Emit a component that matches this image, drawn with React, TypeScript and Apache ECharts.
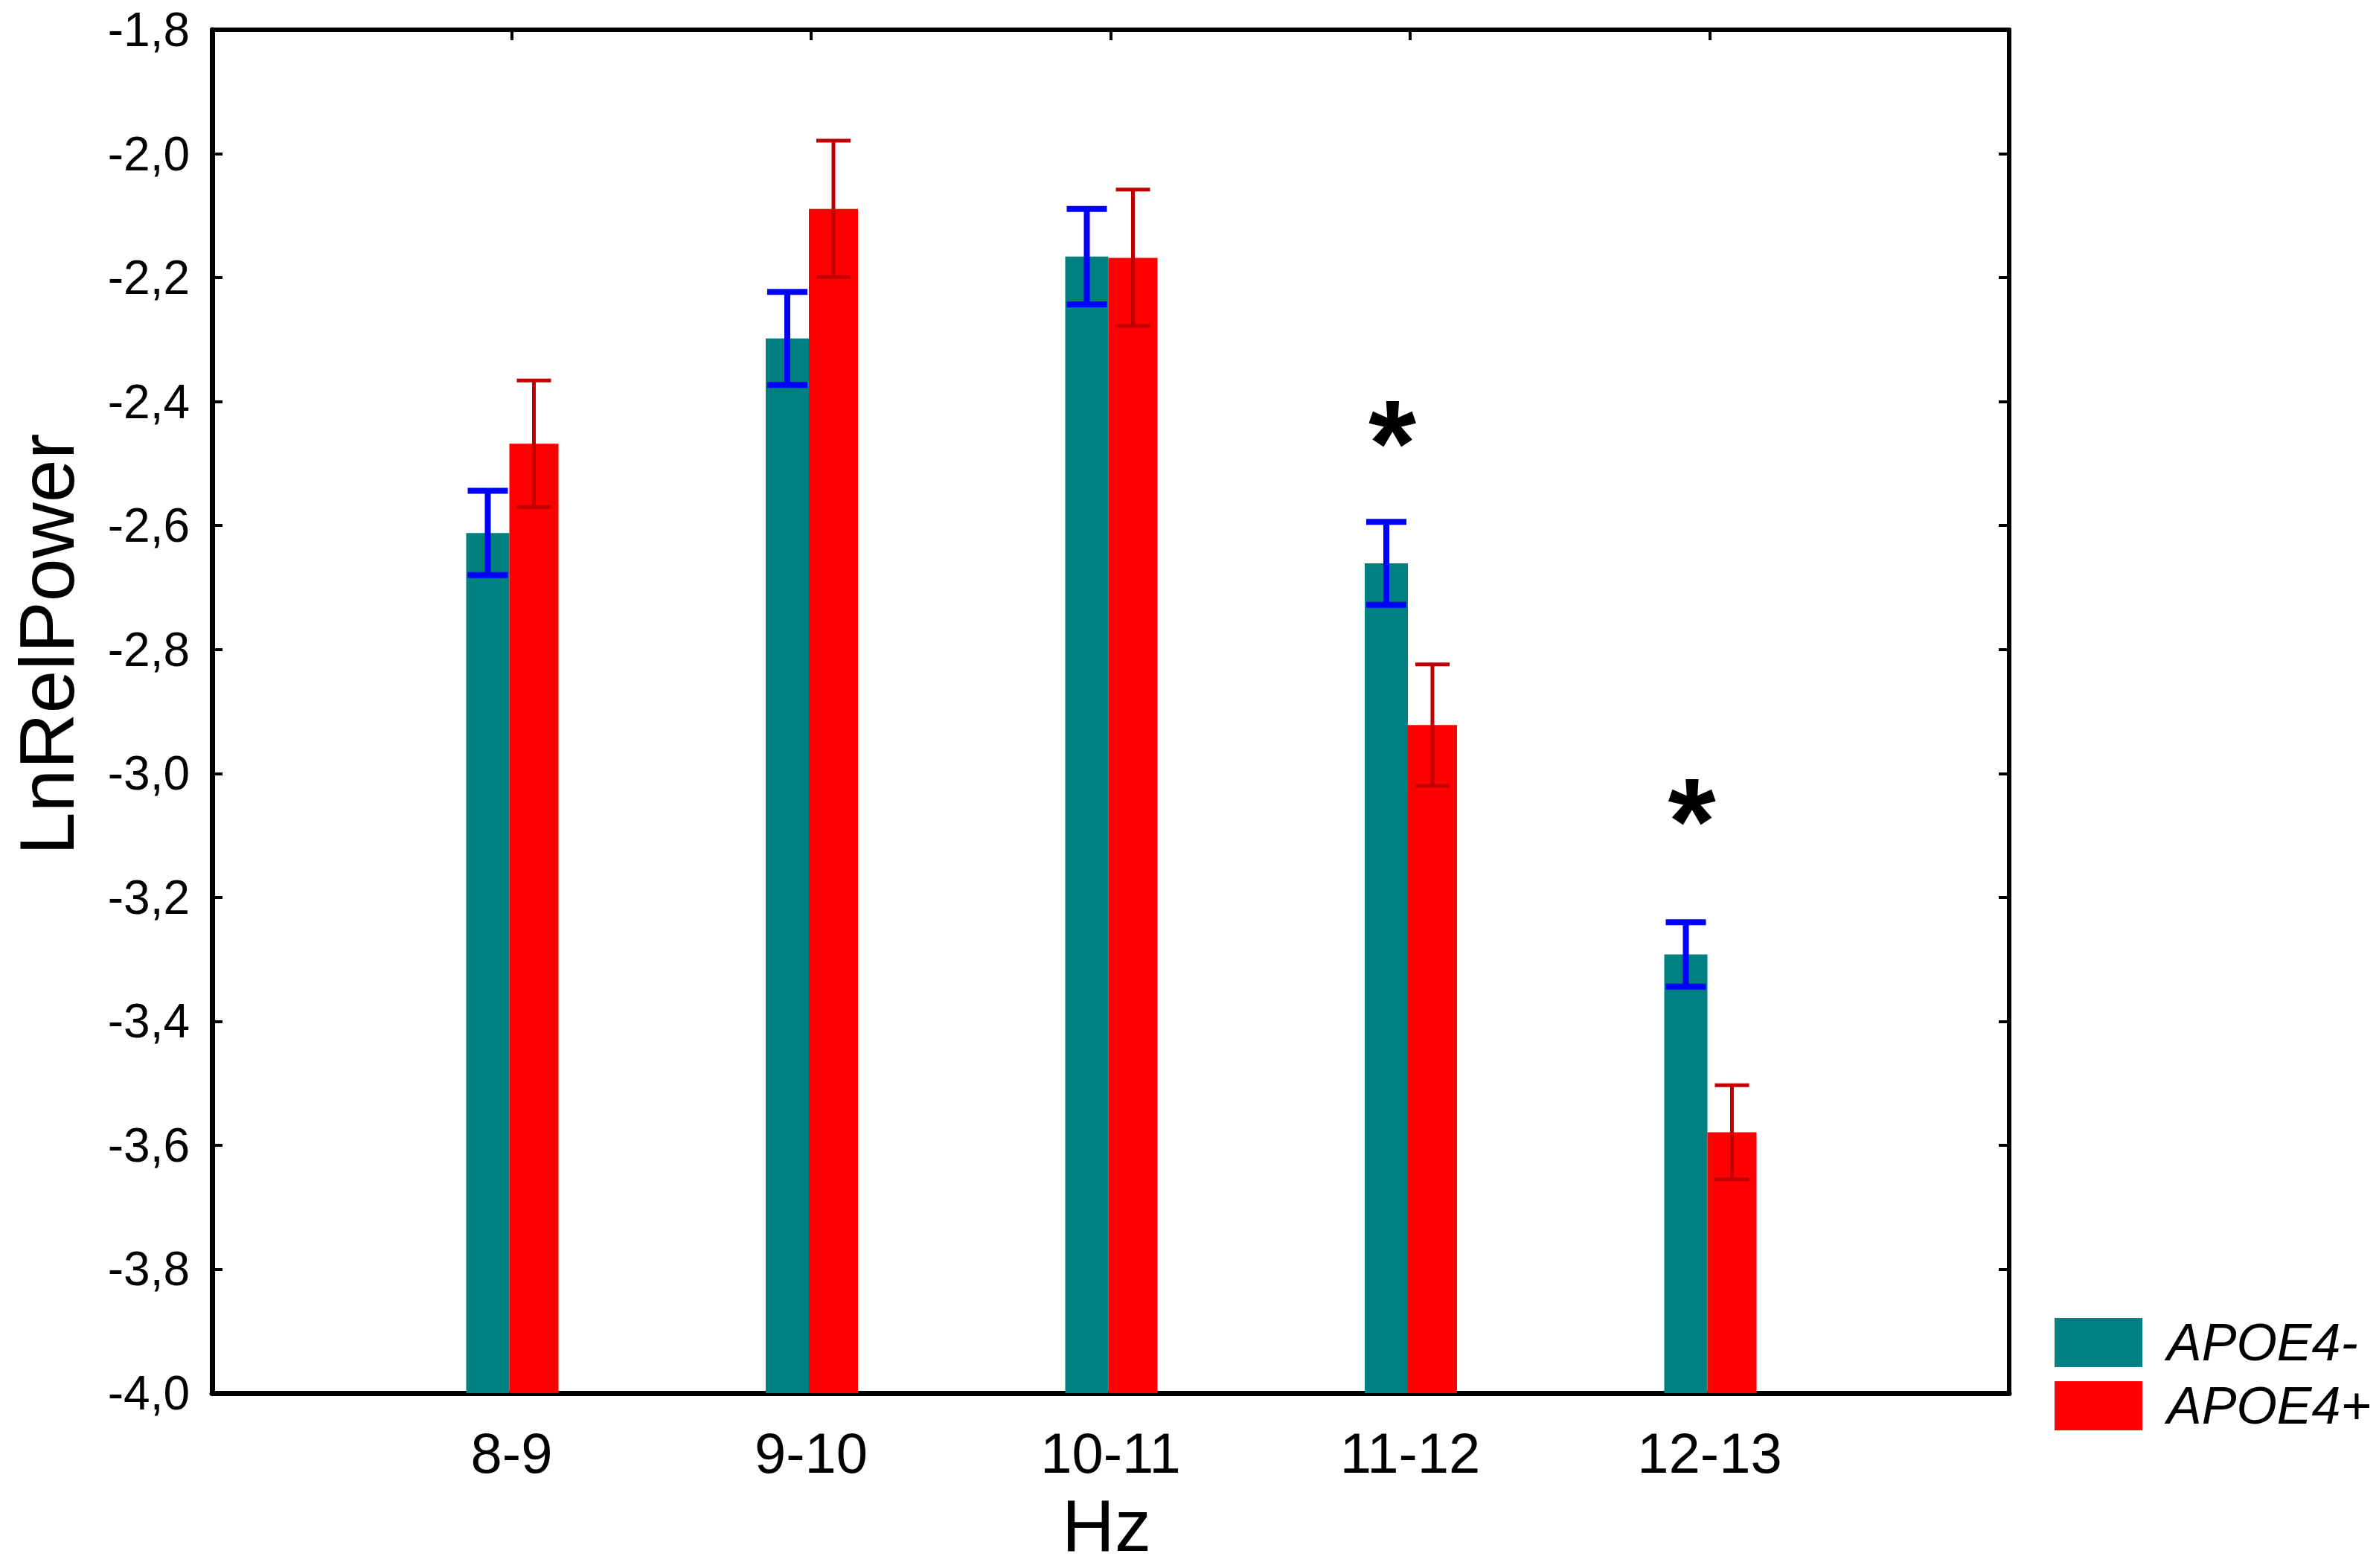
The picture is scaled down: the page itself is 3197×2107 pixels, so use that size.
import React, { useEffect, useRef } from "react";
import * as echarts from "echarts";

const categories = ["", "8-9", "9-10", "10-11", "11-12", "12-13", ""];
const hzBands = ["8-9", "9-10", "10-11", "11-12", "12-13"];
const apoeNegMean = [-2.612, -2.298, -2.166, -2.661, -3.292];
const apoeNegErr = [0.068, 0.075, 0.077, 0.067, 0.052];
const apoePosMean = [-2.468, -2.089, -2.168, -2.922, -3.579];
const apoePosErr = [0.102, 0.11, 0.11, 0.098, 0.076];
const sigBands = ["11-12", "12-13"];
const sigValues = [-2.44, -3.05];
const yTicks = [-4.0, -3.8, -3.6, -3.4, -3.2, -3.0, -2.8, -2.6, -2.4, -2.2, -2.0, -1.8];

const W = 3197;
const H = 2107;
const FONT = "'Liberation Sans', Arial, sans-serif";
const Y_MIN = yTicks[0];
const Y_MAX = yTicks[yTicks.length - 1];
const STAR_SIZE = 165;

function barRender(left: number, right: number, fill: string, errColor: string, errW: number, capHalf: number) {
  return (params: any, api: any) => {
    const idx = api.value(0);
    const v = api.value(1);
    const e = api.value(2);
    const top = api.coord([idx, v]);
    const base = api.coord([idx, Y_MIN]);
    const c = top[0];
    const xc = c + (left + right) / 2;
    const hi = api.coord([idx, v + e])[1];
    const lo = api.coord([idx, v - e])[1];
    return {
      type: "group",
      children: [
        {
          type: "rect",
          shape: { x: c + left, y: top[1], width: right - left, height: base[1] - top[1] },
          style: { fill },
        },
        {
          type: "line",
          shape: { x1: xc, y1: hi, x2: xc, y2: lo },
          style: { stroke: errColor, lineWidth: errW },
        },
        {
          type: "line",
          shape: { x1: xc - capHalf, y1: hi, x2: xc + capHalf, y2: hi },
          style: { stroke: errColor, lineWidth: errW },
        },
        {
          type: "line",
          shape: { x1: xc - capHalf, y1: lo, x2: xc + capHalf, y2: lo },
          style: { stroke: errColor, lineWidth: errW },
        },
      ],
    };
  };
}

export default function App() {
  const ref = useRef<HTMLDivElement>(null);
  useEffect(() => {
    document.body.style.margin = "0";
    const chart = echarts.init(ref.current!, null, { renderer: "svg" });
    const negData = hzBands.map((b, i) => [categories.indexOf(b), apoeNegMean[i], apoeNegErr[i]]);
    const posData = hzBands.map((b, i) => [categories.indexOf(b), apoePosMean[i], apoePosErr[i]]);
    const sigData = sigBands.map((b, i) => [categories.indexOf(b), sigValues[i]]);
    const tickStyle = { show: true, inside: true, length: 14, lineStyle: { width: 4, color: "#000" } };
    chart.setOption({
      animation: false,
      backgroundColor: "#fff",
      grid: { left: 285, right: W - 2700, top: 40, bottom: H - 1872, containLabel: false },
      xAxis: [
        {
          type: "category",
          data: categories,
          boundaryGap: false,
          position: "bottom",
          axisLine: { onZero: false, lineStyle: { color: "#000", width: 7 } },
          axisTick: { show: false },
          axisLabel: { interval: 0, fontSize: 76, color: "#000", fontFamily: FONT, margin: 42 },
          splitLine: { show: false },
        },
        {
          type: "category",
          data: categories,
          boundaryGap: false,
          position: "top",
          axisLine: { onZero: false, lineStyle: { color: "#000", width: 6 } },
          axisTick: tickStyle,
          axisLabel: { show: false },
          splitLine: { show: false },
        },
      ],
      yAxis: [
        {
          type: "value",
          min: Y_MIN,
          max: Y_MAX,
          interval: 0.2,
          position: "left",
          axisLine: { show: true, onZero: false, lineStyle: { color: "#000", width: 7 } },
          axisTick: tickStyle,
          axisLabel: {
            fontSize: 64,
            color: "#000",
            fontFamily: FONT,
            margin: 30,
            formatter: (v: number) => v.toFixed(1).replace(".", ","),
          },
          splitLine: { show: false },
        },
        {
          type: "value",
          min: Y_MIN,
          max: Y_MAX,
          interval: 0.2,
          position: "right",
          axisLine: { show: true, onZero: false, lineStyle: { color: "#000", width: 6 } },
          axisTick: tickStyle,
          axisLabel: { show: false },
          splitLine: { show: false },
        },
      ],
      legend: {
        orient: "vertical",
        left: 2756,
        top: 1764,
        itemWidth: 118,
        itemHeight: 66,
        itemGap: 15,
        icon: "rect",
        data: ["APOE4-", "APOE4+"],
        textStyle: { fontSize: 70, fontStyle: "italic", color: "#000", fontFamily: FONT, padding: [0, 0, 0, 28] },
      },
      series: [
        {
          name: "APOE4-",
          type: "custom",
          xAxisIndex: 0,
          yAxisIndex: 0,
          itemStyle: { color: "#008080" },
          renderItem: barRender(-61, -3, "#008080", "#0000FF", 8, 27),
          data: negData,
          z: 2,
        },
        {
          name: "APOE4+",
          type: "custom",
          xAxisIndex: 0,
          yAxisIndex: 0,
          itemStyle: { color: "#FF0000" },
          renderItem: barRender(-3, 63, "#FF0000", "#C00000", 5, 23),
          data: posData,
          z: 3,
        },
        {
          name: "sig",
          type: "custom",
          xAxisIndex: 0,
          yAxisIndex: 0,
          renderItem: (params: any, api: any) => {
            const p = api.coord([api.value(0), api.value(1)]);
            return {
              type: "text",
              x: p[0] - 24,
              y: p[1] + STAR_SIZE * 0.14,
              style: {
                text: "*",
                fill: "#000",
                font: `bold ${STAR_SIZE}px ${FONT}`,
                textAlign: "center",
                textVerticalAlign: "middle",
              },
            };
          },
          data: sigData,
          z: 4,
        },
      ],
      graphic: [
        {
          type: "text",
          x: 63,
          y: 866,
          rotation: Math.PI / 2,
          style: {
            text: "LnRelPower",
            fill: "#000",
            font: `104px ${FONT}`,
            textAlign: "center",
            textVerticalAlign: "middle",
          },
        },
        {
          type: "text",
          x: 1487,
          y: 2050,
          style: {
            text: "Hz",
            fill: "#000",
            font: `98px ${FONT}`,
            textAlign: "center",
            textVerticalAlign: "middle",
          },
        },
      ],
    });
    return () => chart.dispose();
  }, []);
  return <div ref={ref} style={{ width: W, height: H }} />;
}
